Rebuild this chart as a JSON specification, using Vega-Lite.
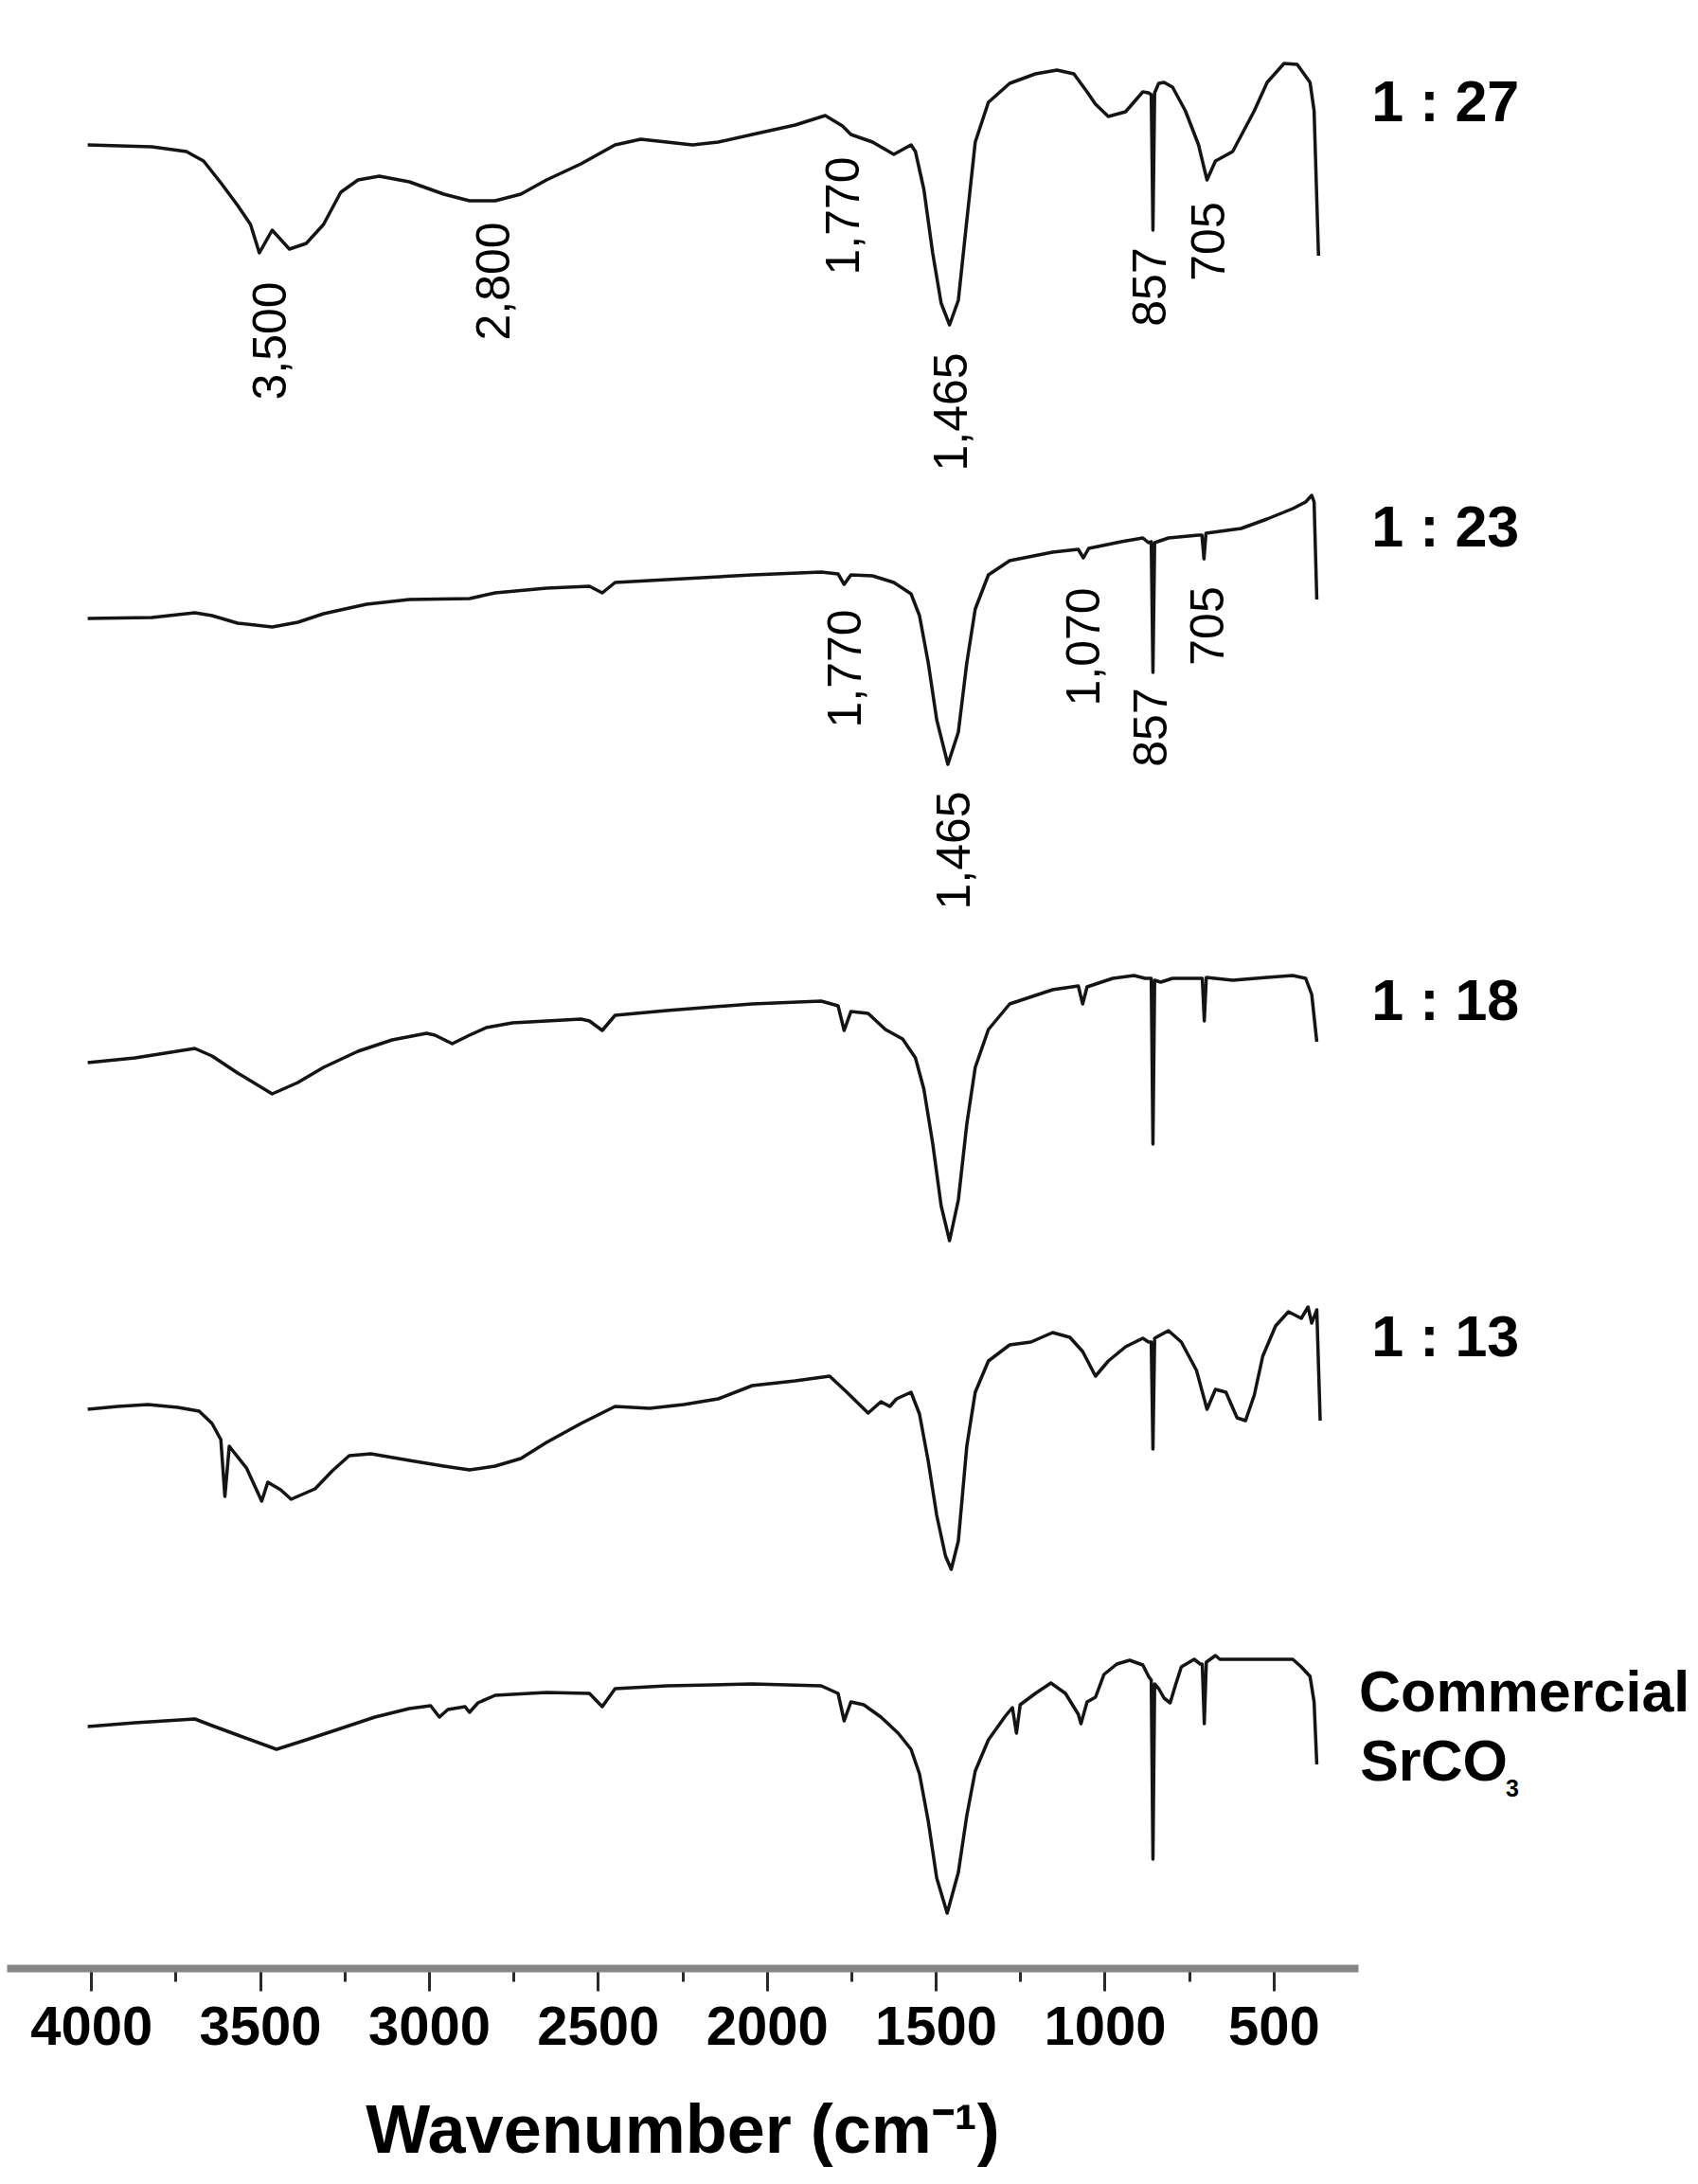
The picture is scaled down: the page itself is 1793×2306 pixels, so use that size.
{
  "$schema": "https://vega.github.io/schema/vega-lite/v6.json",
  "width": 1427,
  "height": 2078,
  "autosize": {"type": "none"},
  "padding": {"left": 7, "top": 0, "right": 359, "bottom": 228},
  "background": "white",
  "config": {"view": {"stroke": null}},
  "datasets": {
    "spectra": [
      {"s":"1 : 27","x":4010,"y":1925},{"s":"1 : 27","x":3820,"y":1923},{"s":"1 : 27","x":3718,"y":1918},{"s":"1 : 27","x":3667,"y":1908},{"s":"1 : 27","x":3616,"y":1885},{"s":"1 : 27","x":3566,"y":1861},{"s":"1 : 27","x":3528,"y":1841},{"s":"1 : 27","x":3502,"y":1811},{"s":"1 : 27","x":3464,"y":1835},{"s":"1 : 27","x":3413,"y":1815},{"s":"1 : 27","x":3363,"y":1821},{"s":"1 : 27","x":3312,"y":1841},{"s":"1 : 27","x":3261,"y":1875},{"s":"1 : 27","x":3210,"y":1888},{"s":"1 : 27","x":3147,"y":1892},{"s":"1 : 27","x":3058,"y":1886},{"s":"1 : 27","x":2956,"y":1873},{"s":"1 : 27","x":2880,"y":1866},{"s":"1 : 27","x":2804,"y":1866},{"s":"1 : 27","x":2728,"y":1873},{"s":"1 : 27","x":2652,"y":1888},{"s":"1 : 27","x":2550,"y":1905},{"s":"1 : 27","x":2449,"y":1925},{"s":"1 : 27","x":2373,"y":1931},{"s":"1 : 27","x":2296,"y":1928},{"s":"1 : 27","x":2220,"y":1925},{"s":"1 : 27","x":2144,"y":1928},{"s":"1 : 27","x":2043,"y":1936},{"s":"1 : 27","x":1916,"y":1946},{"s":"1 : 27","x":1827,"y":1956},{"s":"1 : 27","x":1776,"y":1945},{"s":"1 : 27","x":1751,"y":1936},{"s":"1 : 27","x":1687,"y":1928},{"s":"1 : 27","x":1624,"y":1915},{"s":"1 : 27","x":1573,"y":1925},{"s":"1 : 27","x":1560,"y":1918},{"s":"1 : 27","x":1535,"y":1878},{"s":"1 : 27","x":1509,"y":1811},{"s":"1 : 27","x":1484,"y":1758},{"s":"1 : 27","x":1459,"y":1735},{"s":"1 : 27","x":1433,"y":1761},{"s":"1 : 27","x":1408,"y":1845},{"s":"1 : 27","x":1383,"y":1928},{"s":"1 : 27","x":1344,"y":1970},{"s":"1 : 27","x":1281,"y":1990},{"s":"1 : 27","x":1205,"y":2000},{"s":"1 : 27","x":1141,"y":2004},{"s":"1 : 27","x":1091,"y":2000},{"s":"1 : 27","x":1052,"y":1981},{"s":"1 : 27","x":1027,"y":1968},{"s":"1 : 27","x":989,"y":1955},{"s":"1 : 27","x":938,"y":1960},{"s":"1 : 27","x":887,"y":1981},{"s":"1 : 27","x":870,"y":1980},{"s":"1 : 27","x":862,"y":1978},{"s":"1 : 27","x":857,"y":1835},{"s":"1 : 27","x":852,"y":1980},{"s":"1 : 27","x":840,"y":1990},{"s":"1 : 27","x":824,"y":1991},{"s":"1 : 27","x":799,"y":1986},{"s":"1 : 27","x":761,"y":1961},{"s":"1 : 27","x":722,"y":1925},{"s":"1 : 27","x":697,"y":1888},{"s":"1 : 27","x":672,"y":1908},{"s":"1 : 27","x":621,"y":1918},{"s":"1 : 27","x":557,"y":1961},{"s":"1 : 27","x":519,"y":1991},{"s":"1 : 27","x":469,"y":2011},{"s":"1 : 27","x":430,"y":2010},{"s":"1 : 27","x":392,"y":1991},{"s":"1 : 27","x":380,"y":1961},{"s":"1 : 27","x":367,"y":1808},

      {"s":"1 : 23","x":4010,"y":1425},{"s":"1 : 23","x":3820,"y":1426},{"s":"1 : 23","x":3693,"y":1431},{"s":"1 : 23","x":3642,"y":1428},{"s":"1 : 23","x":3566,"y":1420},{"s":"1 : 23","x":3464,"y":1416},{"s":"1 : 23","x":3388,"y":1421},{"s":"1 : 23","x":3312,"y":1430},{"s":"1 : 23","x":3185,"y":1440},{"s":"1 : 23","x":3058,"y":1445},{"s":"1 : 23","x":2880,"y":1446},{"s":"1 : 23","x":2804,"y":1452},{"s":"1 : 23","x":2652,"y":1457},{"s":"1 : 23","x":2525,"y":1459},{"s":"1 : 23","x":2487,"y":1452},{"s":"1 : 23","x":2449,"y":1463},{"s":"1 : 23","x":2296,"y":1466},{"s":"1 : 23","x":2043,"y":1471},{"s":"1 : 23","x":1839,"y":1474},{"s":"1 : 23","x":1789,"y":1472},{"s":"1 : 23","x":1771,"y":1461},{"s":"1 : 23","x":1751,"y":1471},{"s":"1 : 23","x":1687,"y":1470},{"s":"1 : 23","x":1624,"y":1463},{"s":"1 : 23","x":1573,"y":1451},{"s":"1 : 23","x":1548,"y":1428},{"s":"1 : 23","x":1522,"y":1378},{"s":"1 : 23","x":1497,"y":1318},{"s":"1 : 23","x":1464,"y":1271},{"s":"1 : 23","x":1433,"y":1305},{"s":"1 : 23","x":1408,"y":1378},{"s":"1 : 23","x":1383,"y":1435},{"s":"1 : 23","x":1344,"y":1471},{"s":"1 : 23","x":1281,"y":1486},{"s":"1 : 23","x":1154,"y":1495},{"s":"1 : 23","x":1078,"y":1498},{"s":"1 : 23","x":1063,"y":1489},{"s":"1 : 23","x":1047,"y":1499},{"s":"1 : 23","x":951,"y":1506},{"s":"1 : 23","x":887,"y":1510},{"s":"1 : 23","x":870,"y":1505},{"s":"1 : 23","x":862,"y":1506},{"s":"1 : 23","x":857,"y":1368},{"s":"1 : 23","x":852,"y":1505},{"s":"1 : 23","x":811,"y":1510},{"s":"1 : 23","x":722,"y":1513},{"s":"1 : 23","x":712,"y":1513},{"s":"1 : 23","x":706,"y":1488},{"s":"1 : 23","x":700,"y":1515},{"s":"1 : 23","x":596,"y":1520},{"s":"1 : 23","x":519,"y":1530},{"s":"1 : 23","x":443,"y":1541},{"s":"1 : 23","x":405,"y":1548},{"s":"1 : 23","x":387,"y":1555},{"s":"1 : 23","x":380,"y":1548},{"s":"1 : 23","x":372,"y":1445},

      {"s":"1 : 18","x":4010,"y":956},{"s":"1 : 18","x":3870,"y":961},{"s":"1 : 18","x":3693,"y":971},{"s":"1 : 18","x":3642,"y":963},{"s":"1 : 18","x":3566,"y":945},{"s":"1 : 18","x":3464,"y":923},{"s":"1 : 18","x":3388,"y":935},{"s":"1 : 18","x":3312,"y":951},{"s":"1 : 18","x":3210,"y":968},{"s":"1 : 18","x":3109,"y":980},{"s":"1 : 18","x":3007,"y":987},{"s":"1 : 18","x":2982,"y":985},{"s":"1 : 18","x":2931,"y":976},{"s":"1 : 18","x":2880,"y":985},{"s":"1 : 18","x":2830,"y":993},{"s":"1 : 18","x":2753,"y":998},{"s":"1 : 18","x":2550,"y":1002},{"s":"1 : 18","x":2525,"y":1000},{"s":"1 : 18","x":2487,"y":990},{"s":"1 : 18","x":2449,"y":1006},{"s":"1 : 18","x":2296,"y":1011},{"s":"1 : 18","x":2043,"y":1018},{"s":"1 : 18","x":1839,"y":1021},{"s":"1 : 18","x":1789,"y":1016},{"s":"1 : 18","x":1771,"y":990},{"s":"1 : 18","x":1751,"y":1010},{"s":"1 : 18","x":1700,"y":1008},{"s":"1 : 18","x":1649,"y":991},{"s":"1 : 18","x":1598,"y":981},{"s":"1 : 18","x":1560,"y":961},{"s":"1 : 18","x":1535,"y":928},{"s":"1 : 18","x":1509,"y":871},{"s":"1 : 18","x":1484,"y":805},{"s":"1 : 18","x":1459,"y":768},{"s":"1 : 18","x":1433,"y":811},{"s":"1 : 18","x":1408,"y":891},{"s":"1 : 18","x":1383,"y":951},{"s":"1 : 18","x":1344,"y":991},{"s":"1 : 18","x":1281,"y":1018},{"s":"1 : 18","x":1154,"y":1033},{"s":"1 : 18","x":1078,"y":1037},{"s":"1 : 18","x":1065,"y":1018},{"s":"1 : 18","x":1052,"y":1036},{"s":"1 : 18","x":976,"y":1045},{"s":"1 : 18","x":913,"y":1048},{"s":"1 : 18","x":880,"y":1045},{"s":"1 : 18","x":862,"y":1045},{"s":"1 : 18","x":857,"y":870},{"s":"1 : 18","x":852,"y":1043},{"s":"1 : 18","x":834,"y":1041},{"s":"1 : 18","x":799,"y":1045},{"s":"1 : 18","x":717,"y":1045},{"s":"1 : 18","x":711,"y":1045},{"s":"1 : 18","x":705,"y":1000},{"s":"1 : 18","x":699,"y":1046},{"s":"1 : 18","x":621,"y":1043},{"s":"1 : 18","x":519,"y":1046},{"s":"1 : 18","x":443,"y":1048},{"s":"1 : 18","x":405,"y":1045},{"s":"1 : 18","x":387,"y":1028},{"s":"1 : 18","x":372,"y":978},

      {"s":"1 : 13","x":4010,"y":590},{"s":"1 : 13","x":3921,"y":593},{"s":"1 : 13","x":3832,"y":595},{"s":"1 : 13","x":3743,"y":592},{"s":"1 : 13","x":3680,"y":588},{"s":"1 : 13","x":3642,"y":575},{"s":"1 : 13","x":3616,"y":558},{"s":"1 : 13","x":3604,"y":498},{"s":"1 : 13","x":3591,"y":551},{"s":"1 : 13","x":3578,"y":545},{"s":"1 : 13","x":3540,"y":528},{"s":"1 : 13","x":3495,"y":493},{"s":"1 : 13","x":3477,"y":513},{"s":"1 : 13","x":3439,"y":505},{"s":"1 : 13","x":3408,"y":495},{"s":"1 : 13","x":3337,"y":506},{"s":"1 : 13","x":3286,"y":525},{"s":"1 : 13","x":3236,"y":541},{"s":"1 : 13","x":3172,"y":543},{"s":"1 : 13","x":3058,"y":536},{"s":"1 : 13","x":2956,"y":530},{"s":"1 : 13","x":2880,"y":526},{"s":"1 : 13","x":2804,"y":530},{"s":"1 : 13","x":2728,"y":538},{"s":"1 : 13","x":2652,"y":555},{"s":"1 : 13","x":2550,"y":575},{"s":"1 : 13","x":2449,"y":593},{"s":"1 : 13","x":2347,"y":591},{"s":"1 : 13","x":2246,"y":595},{"s":"1 : 13","x":2144,"y":601},{"s":"1 : 13","x":2043,"y":615},{"s":"1 : 13","x":1916,"y":620},{"s":"1 : 13","x":1814,"y":625},{"s":"1 : 13","x":1763,"y":608},{"s":"1 : 13","x":1700,"y":586},{"s":"1 : 13","x":1662,"y":598},{"s":"1 : 13","x":1636,"y":593},{"s":"1 : 13","x":1616,"y":601},{"s":"1 : 13","x":1573,"y":608},{"s":"1 : 13","x":1548,"y":585},{"s":"1 : 13","x":1522,"y":535},{"s":"1 : 13","x":1497,"y":478},{"s":"1 : 13","x":1471,"y":435},{"s":"1 : 13","x":1454,"y":421},{"s":"1 : 13","x":1433,"y":451},{"s":"1 : 13","x":1408,"y":551},{"s":"1 : 13","x":1383,"y":608},{"s":"1 : 13","x":1344,"y":641},{"s":"1 : 13","x":1281,"y":658},{"s":"1 : 13","x":1218,"y":661},{"s":"1 : 13","x":1154,"y":671},{"s":"1 : 13","x":1103,"y":666},{"s":"1 : 13","x":1065,"y":651},{"s":"1 : 13","x":1027,"y":625},{"s":"1 : 13","x":989,"y":641},{"s":"1 : 13","x":938,"y":656},{"s":"1 : 13","x":887,"y":665},{"s":"1 : 13","x":870,"y":661},{"s":"1 : 13","x":862,"y":661},{"s":"1 : 13","x":857,"y":548},{"s":"1 : 13","x":852,"y":665},{"s":"1 : 13","x":837,"y":668},{"s":"1 : 13","x":811,"y":673},{"s":"1 : 13","x":773,"y":661},{"s":"1 : 13","x":728,"y":631},{"s":"1 : 13","x":697,"y":590},{"s":"1 : 13","x":672,"y":611},{"s":"1 : 13","x":641,"y":608},{"s":"1 : 13","x":608,"y":581},{"s":"1 : 13","x":583,"y":578},{"s":"1 : 13","x":557,"y":605},{"s":"1 : 13","x":532,"y":646},{"s":"1 : 13","x":494,"y":678},{"s":"1 : 13","x":456,"y":693},{"s":"1 : 13","x":418,"y":686},{"s":"1 : 13","x":398,"y":698},{"s":"1 : 13","x":387,"y":681},{"s":"1 : 13","x":372,"y":695},{"s":"1 : 13","x":362,"y":578},

      {"s":"Commercial","x":4010,"y":255},{"s":"Commercial","x":3870,"y":259},{"s":"Commercial","x":3693,"y":263},{"s":"Commercial","x":3642,"y":256},{"s":"Commercial","x":3566,"y":246},{"s":"Commercial","x":3451,"y":231},{"s":"Commercial","x":3363,"y":241},{"s":"Commercial","x":3261,"y":253},{"s":"Commercial","x":3160,"y":265},{"s":"Commercial","x":3058,"y":274},{"s":"Commercial","x":2995,"y":277},{"s":"Commercial","x":2969,"y":265},{"s":"Commercial","x":2944,"y":273},{"s":"Commercial","x":2893,"y":276},{"s":"Commercial","x":2880,"y":270},{"s":"Commercial","x":2855,"y":280},{"s":"Commercial","x":2804,"y":288},{"s":"Commercial","x":2652,"y":291},{"s":"Commercial","x":2525,"y":290},{"s":"Commercial","x":2487,"y":276},{"s":"Commercial","x":2449,"y":295},{"s":"Commercial","x":2296,"y":298},{"s":"Commercial","x":2043,"y":300},{"s":"Commercial","x":1839,"y":298},{"s":"Commercial","x":1789,"y":290},{"s":"Commercial","x":1771,"y":261},{"s":"Commercial","x":1751,"y":281},{"s":"Commercial","x":1713,"y":278},{"s":"Commercial","x":1662,"y":265},{"s":"Commercial","x":1611,"y":248},{"s":"Commercial","x":1573,"y":231},{"s":"Commercial","x":1548,"y":205},{"s":"Commercial","x":1522,"y":155},{"s":"Commercial","x":1497,"y":95},{"s":"Commercial","x":1466,"y":58},{"s":"Commercial","x":1433,"y":101},{"s":"Commercial","x":1408,"y":161},{"s":"Commercial","x":1383,"y":208},{"s":"Commercial","x":1344,"y":241},{"s":"Commercial","x":1294,"y":266},{"s":"Commercial","x":1273,"y":275},{"s":"Commercial","x":1261,"y":248},{"s":"Commercial","x":1250,"y":278},{"s":"Commercial","x":1205,"y":290},{"s":"Commercial","x":1159,"y":301},{"s":"Commercial","x":1116,"y":290},{"s":"Commercial","x":1078,"y":268},{"s":"Commercial","x":1070,"y":258},{"s":"Commercial","x":1052,"y":281},{"s":"Commercial","x":1027,"y":286},{"s":"Commercial","x":1002,"y":310},{"s":"Commercial","x":964,"y":321},{"s":"Commercial","x":926,"y":325},{"s":"Commercial","x":887,"y":320},{"s":"Commercial","x":870,"y":308},{"s":"Commercial","x":862,"y":304},{"s":"Commercial","x":857,"y":115},{"s":"Commercial","x":852,"y":300},{"s":"Commercial","x":840,"y":295},{"s":"Commercial","x":824,"y":285},{"s":"Commercial","x":806,"y":280},{"s":"Commercial","x":791,"y":298},{"s":"Commercial","x":773,"y":318},{"s":"Commercial","x":735,"y":326},{"s":"Commercial","x":717,"y":321},{"s":"Commercial","x":711,"y":321},{"s":"Commercial","x":705,"y":258},{"s":"Commercial","x":699,"y":323},{"s":"Commercial","x":672,"y":330},{"s":"Commercial","x":659,"y":326},{"s":"Commercial","x":519,"y":326},{"s":"Commercial","x":443,"y":326},{"s":"Commercial","x":418,"y":318},{"s":"Commercial","x":392,"y":308},{"s":"Commercial","x":380,"y":281},{"s":"Commercial","x":372,"y":215}
    ],
    "peaks": [
      {"t":"3,500","x":3464,"y":1718},{"t":"2,800","x":2804,"y":1781},{"t":"1,770","x":1770,"y":1850},{"t":"1,465","x":1450,"y":1643},{"t":"857","x":860,"y":1775},{"t":"705","x":686,"y":1823},
      {"t":"1,770","x":1765,"y":1372},{"t":"1,465","x":1440,"y":1180},{"t":"1,070","x":1058,"y":1395},{"t":"857","x":858,"y":1310},{"t":"705","x":690,"y":1417}
    ],
    "names": [
      {"t":"1 : 27","x":210,"y":1950},{"t":"1 : 23","x":210,"y":1501},{"t":"1 : 18","x":210,"y":1001},{"t":"1 : 13","x":210,"y":646},{"t":"Commercial","x":247,"y":271},{"t":"SrCO","x":244,"y":198}
    ],
    "subs": [
      {"t":"3","x":-187,"y":181}
    ]
  },
  "layer": [
    {
      "data": {"name": "spectra"},
      "mark": {"type": "line", "color": "#141414", "strokeWidth": 3.5, "strokeJoin": "round"},
      "encoding": {
        "x": {"field": "x", "type": "quantitative", "scale": {"domain": [4250, 250], "nice": false, "zero": false},
          "axis": {
            "values": [4000, 3750, 3500, 3250, 3000, 2750, 2500, 2250, 2000, 1750, 1500, 1250, 1000, 750, 500],
            "labelExpr": "datum.value % 500 === 0 ? format(datum.value, 'd') : ''",
            "tickSize": {"condition": {"test": "datum.value % 500 === 0", "value": 24}, "value": 14},
            "tickColor": "#2a2a2a", "tickWidth": 3,
            "domainColor": "#858585", "domainWidth": 8,
            "grid": false,
            "labelFont": "Liberation Sans", "labelFontSize": 58, "labelFontWeight": "bold", "labelColor": "#000000",
            "labelPadding": 10, "labelFlush": false, "labelOverlap": false, "labelBound": false,
            "title": "Wavenumber (cm⁻¹)",
            "titleFont": "Liberation Sans", "titleFontSize": 72, "titleFontWeight": "bold", "titleColor": "#000000",
            "titlePadding": 45
          }},
        "y": {"field": "y", "type": "quantitative", "scale": {"domain": [0, 2078], "nice": false, "zero": false}, "axis": null},
        "detail": {"field": "s"}
      }
    },
    {
      "data": {"name": "peaks"},
      "mark": {"type": "text", "angle": 270, "align": "center", "baseline": "middle", "font": "Liberation Sans", "fontSize": 50, "color": "#000000"},
      "encoding": {
        "x": {"field": "x", "type": "quantitative", "scale": {"domain": [4250, 250], "nice": false, "zero": false}},
        "y": {"field": "y", "type": "quantitative", "scale": {"domain": [0, 2078], "nice": false, "zero": false}, "axis": null},
        "text": {"field": "t"}
      }
    },
    {
      "data": {"name": "names"},
      "mark": {"type": "text", "align": "left", "baseline": "alphabetic", "font": "Liberation Sans", "fontSize": 61, "fontWeight": "bold", "color": "#000000"},
      "encoding": {
        "x": {"field": "x", "type": "quantitative", "scale": {"domain": [4250, 250], "nice": false, "zero": false}},
        "y": {"field": "y", "type": "quantitative", "scale": {"domain": [0, 2078], "nice": false, "zero": false}, "axis": null},
        "text": {"field": "t"}
      }
    },
    {
      "data": {"name": "subs"},
      "mark": {"type": "text", "align": "left", "baseline": "alphabetic", "font": "Liberation Sans", "fontSize": 25, "fontWeight": "bold", "color": "#000000"},
      "encoding": {
        "x": {"field": "x", "type": "quantitative", "scale": {"domain": [4250, 250], "nice": false, "zero": false}},
        "y": {"field": "y", "type": "quantitative", "scale": {"domain": [0, 2078], "nice": false, "zero": false}, "axis": null},
        "text": {"field": "t"}
      }
    }
  ]
}
